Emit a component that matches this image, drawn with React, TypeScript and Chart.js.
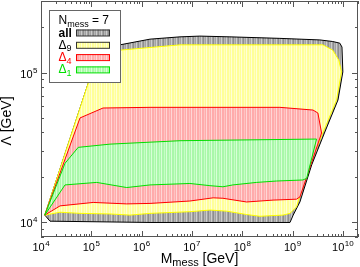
import React, { useEffect, useRef } from "react";
import { Chart, registerables } from "chart.js";

Chart.register(...registerables);

const FONT = '"Liberation Sans", Arial, Helvetica, sans-serif';

// Axis ranges and major tick exponents
const xMin = 1e4;
const xMax = 2e10;
const yMin = 8e3;
const yMax = 3e5;
const xMajorExp = ["4", "5", "6", "7", "8", "9", "10"];
const yMajorExp = ["4", "5"];

// Titles
const xTitleMain = "M";
const xTitleSub = "mess";
const xTitleRest = " [GeV]";
const yTitle = "Λ [GeV]";
const legendMain = "N";
const legendSub = "mess";
const legendRest = " = 7";

// Series labels
const seriesMain = ["all", "Δ", "Δ", "Δ"];
const seriesSub = ["", "9", "4", "1"];
const seriesTextColor = ["#000000", "#000000", "#ff0000", "#00e000"];

// Region "all" (closed polygon)
const allX = [1.19e4, 8.7e4, 1.42e5, 3.7e5, 1.47e6, 5.8e6, 1.44e7, 5.7e7, 5.6e8, 3.5e9, 6.3e9, 8.7e9, 9.6e9, 1.0e10, 8.0e9, 4.3e9, 2.4e9, 1.4e9, 1.03e9, 8.9e8, 1.47e6, 1.51e4, 1.19e4];
const allY = [1.12e4, 8.5e4, 1.43e5, 1.53e5, 1.67e5, 1.73e5, 1.75e5, 1.73e5, 1.69e5, 1.65e5, 1.61e5, 1.57e5, 1.48e5, 1.01e5, 6.56e4, 3.95e4, 2.42e4, 1.37e4, 1.12e4, 1.0e4, 1.0e4, 1.02e4, 1.12e4];

// Region Δ9
const d9X = [1.19e4, 8.7e4, 1.49e5, 3.7e5, 5.8e6, 4.0e9, 6.3e9, 8.3e9, 9.4e9, 7.5e9, 4.0e9, 2.2e9, 1.2e9, 8.9e8, 6.5e8, 2.25e8, 1.22e8, 4.9e7, 2.28e7, 9.1e6, 1.47e6, 5.9e5, 2.35e5, 6.0e4, 2.4e4, 1.19e4];
const d9Y = [1.12e4, 8.5e4, 1.37e5, 1.41e5, 1.53e5, 1.53e5, 1.41e5, 1.21e5, 1.01e5, 6.56e4, 3.95e4, 2.42e4, 1.27e4, 1.15e4, 1.12e4, 1.10e4, 1.13e4, 1.19e4, 1.21e4, 1.18e4, 1.15e4, 1.12e4, 1.14e4, 1.15e4, 1.17e4, 1.12e4];

// Region Δ4
const d4X = [1.19e4, 5.96e4, 1.71e5, 1.47e6, 5.6e8, 2.55e9, 3.19e9, 3.78e9, 1.4e9, 1.2e9, 4.1e8, 1.22e8, 4.13e7, 2.65e7, 9.1e6, 1.47e6, 5.05e5, 1.09e5, 2.39e4, 1.19e4];
const d4Y = [1.12e4, 4.98e4, 5.8e4, 5.86e4, 5.86e4, 5.62e4, 5.37e4, 3.95e4, 1.48e4, 1.43e4, 1.41e4, 1.37e4, 1.45e4, 1.46e4, 1.39e4, 1.34e4, 1.33e4, 1.36e4, 1.29e4, 1.12e4];

// Region Δ1
const d1X = [1.19e4, 3.0e4, 5.5e4, 2.35e5, 5.8e6, 3.0e9, 1.91e9, 1.6e9, 4.8e8, 1.93e8, 6.5e7, 4.13e7, 2.28e7, 9.1e6, 1.47e6, 5.05e5, 1.28e5, 3.0e4, 1.19e4];
const d1Y = [1.12e4, 2.48e4, 3.17e4, 3.33e4, 3.51e4, 3.6e4, 1.97e4, 1.92e4, 1.89e4, 1.85e4, 1.78e4, 1.73e4, 1.76e4, 1.82e4, 1.78e4, 1.71e4, 1.85e4, 1.78e4, 1.12e4];

const seriesX = [allX, d9X, d4X, d1X];
const seriesY = [allY, d9Y, d4Y, d1Y];
const borderColors = ["#000000", "#ffff00", "#ff0000", "#00e000"];
const swatchBorders = ["#333333", "#333333", "#ff0000", "#00e000"];
const stripeColors = [
  ["#a2a2a2", "#cdcdcd", "#8e8e8e", "#b6b6b6"],
  ["#ffff99", "#ffffd8", "#ffff99", "#ffffc0"],
  ["#ffabab", "#ffd6d6", "#ffabab", "#ffc2c2"],
  ["#aaf7aa", "#d8ffd8", "#aaf7aa", "#c4ffc4"],
];

function makePattern(ctx: CanvasRenderingContext2D, cols: string[]) {
  const c = document.createElement("canvas");
  c.width = 5;
  c.height = 4;
  const g = c.getContext("2d")!;
  g.fillStyle = cols[0];
  g.fillRect(0, 0, 5, 4);
  g.fillStyle = cols[1];
  g.fillRect(1, 0, 1, 4);
  g.fillStyle = cols[2];
  g.fillRect(3, 0, 1, 4);
  g.fillStyle = cols[3];
  g.fillRect(4, 0, 1, 4);
  return ctx.createPattern(c, "repeat")!;
}

function drawPow(ctx: CanvasRenderingContext2D, x: number, y: number, exp: string, align: "center" | "right") {
  ctx.font = `11px ${FONT}`;
  const wb = ctx.measureText("10").width;
  ctx.font = `8px ${FONT}`;
  const we = ctx.measureText(exp).width;
  const total = wb + 0.5 + we;
  const x0 = align === "center" ? x - total / 2 : x - total;
  ctx.textAlign = "left";
  ctx.textBaseline = "alphabetic";
  ctx.font = `11px ${FONT}`;
  ctx.fillText("10", x0, y);
  ctx.font = `8px ${FONT}`;
  ctx.fillText(exp, x0 + wb + 0.5, y - 5);
}

function drawSubText(
  ctx: CanvasRenderingContext2D,
  x: number,
  y: number,
  main: string,
  sub: string,
  rest: string,
  mainFont: string,
  subFont: string,
  subDy: number
) {
  ctx.textAlign = "left";
  ctx.textBaseline = "alphabetic";
  ctx.font = mainFont;
  ctx.fillText(main, x, y);
  let cx = x + ctx.measureText(main).width;
  if (sub) {
    ctx.font = subFont;
    ctx.fillText(sub, cx, y + subDy);
    cx += ctx.measureText(sub).width;
  }
  if (rest) {
    ctx.font = mainFont;
    ctx.fillText(rest, cx, y);
    cx += ctx.measureText(rest).width;
  }
  return cx;
}

const overlayPlugin = {
  id: "overlay",
  afterDraw(chart: any) {
    const { ctx, chartArea: a } = chart;
    const xs = chart.scales.x;
    const ys = chart.scales.y;
    ctx.save();

    // frame
    ctx.strokeStyle = "#555555";
    ctx.lineWidth = 1;
    ctx.strokeRect(a.left + 0.5, a.top + 0.5, a.right - a.left - 1, a.bottom - a.top - 1);

    // inward ticks
    ctx.beginPath();
    for (let e = 4; e <= 10; e++) {
      for (let m = 1; m <= 9; m++) {
        const v = m * Math.pow(10, e);
        if (v < xMin || v > xMax) continue;
        const px = Math.round(xs.getPixelForValue(v)) + 0.5;
        const len = m === 1 ? 6 : 3;
        ctx.moveTo(px, a.bottom);
        ctx.lineTo(px, a.bottom - len);
        ctx.moveTo(px, a.top);
        ctx.lineTo(px, a.top + len);
      }
    }
    for (let e = 3; e <= 5; e++) {
      for (let m = 1; m <= 9; m++) {
        const v = m * Math.pow(10, e);
        if (v < yMin || v > yMax) continue;
        const py = Math.round(ys.getPixelForValue(v)) + 0.5;
        const len = m === 1 ? 6 : 3;
        ctx.moveTo(a.left, py);
        ctx.lineTo(a.left + len, py);
        ctx.moveTo(a.right, py);
        ctx.lineTo(a.right - len, py);
      }
    }
    ctx.stroke();

    // tick labels
    ctx.fillStyle = "#000000";
    for (const e of xMajorExp) {
      const px = xs.getPixelForValue(Math.pow(10, Number(e)));
      drawPow(ctx, px, a.bottom + 14, e, "center");
    }
    for (const e of yMajorExp) {
      const py = ys.getPixelForValue(Math.pow(10, Number(e)));
      drawPow(ctx, a.left - 3.5, py + 5, e, "right");
    }

    // x title
    ctx.font = `14px ${FONT}`;
    const w1 = ctx.measureText(xTitleMain).width + ctx.measureText(xTitleRest).width;
    ctx.font = `11px ${FONT}`;
    const w2 = ctx.measureText(xTitleSub).width;
    const cxm = (a.left + a.right) / 2;
    drawSubText(ctx, cxm - (w1 + w2) / 2, 263, xTitleMain, xTitleSub, xTitleRest, `14px ${FONT}`, `11px ${FONT}`, 3);

    // y title
    ctx.save();
    ctx.translate(11, (a.top + a.bottom) / 2 + 2);
    ctx.rotate(-Math.PI / 2);
    ctx.font = `14px ${FONT}`;
    ctx.textAlign = "center";
    ctx.textBaseline = "alphabetic";
    ctx.fillText(yTitle, 0, 0);
    ctx.restore();

    // legend box
    const bx = 49.5, by = 10.5, bw = 71, bh = 72;
    ctx.fillStyle = "#ffffff";
    ctx.fillRect(bx, by, bw, bh);
    ctx.strokeStyle = "#666666";
    ctx.strokeRect(bx, by, bw, bh);

    ctx.fillStyle = "#000000";
    drawSubText(ctx, 58.5, 24, legendMain, legendSub, legendRest, `12px ${FONT}`, `9px ${FONT}`, 2.5);

    const rowBase = [36.5, 48.8, 61.1, 73.4];
    const dsets = chart.data.datasets;
    for (let i = 0; i < seriesMain.length; i++) {
      const yb = rowBase[i];
      ctx.fillStyle = seriesTextColor[i];
      drawSubText(
        ctx,
        58.5,
        yb,
        seriesMain[i],
        seriesSub[i],
        "",
        i === 0 ? `bold 12px ${FONT}` : `12px ${FONT}`,
        `9px ${FONT}`,
        2.5
      );
      ctx.fillStyle = dsets[i].backgroundColor;
      ctx.fillRect(76, yb - 7, 34, 6.5);
      ctx.strokeStyle = swatchBorders[i];
      ctx.lineWidth = 1;
      ctx.strokeRect(76.5, yb - 6.5, 33, 6);
    }

    ctx.restore();
  },
};

export default function App() {
  const ref = useRef<HTMLCanvasElement | null>(null);

  useEffect(() => {
    document.body.style.margin = "0";
    const canvas = ref.current!;
    const ctx = canvas.getContext("2d")!;
    const patterns = stripeColors.map((c) => makePattern(ctx, c));
    const orders = [4, 3, 2, 1];

    const datasets = seriesX.map((xsArr, i) => ({
      label: seriesMain[i] + seriesSub[i],
      data: xsArr.map((x, j) => ({ x, y: seriesY[i][j] })),
      showLine: true,
      fill: "shape",
      backgroundColor: patterns[i],
      borderColor: borderColors[i],
      borderWidth: 1,
      pointRadius: 0,
      pointHoverRadius: 0,
      tension: 0,
      order: orders[i],
    }));

    const chart = new Chart(canvas, {
      type: "scatter",
      data: { datasets: datasets as any },
      options: {
        animation: false,
        responsive: false,
        events: [],
        layout: { padding: { left: 41, right: 2, top: 1, bottom: 30 } },
        scales: {
          x: { type: "logarithmic", min: xMin, max: xMax, display: false },
          y: { type: "logarithmic", min: yMin, max: yMax, display: false },
        },
        plugins: {
          legend: { display: false },
          tooltip: { enabled: false },
        },
      },
      plugins: [overlayPlugin],
    });
    return () => chart.destroy();
  }, []);

  return (
    <div style={{ width: 360, height: 267, background: "#ffffff" }}>
      <canvas ref={ref} width={360} height={267} style={{ display: "block" }} />
    </div>
  );
}
